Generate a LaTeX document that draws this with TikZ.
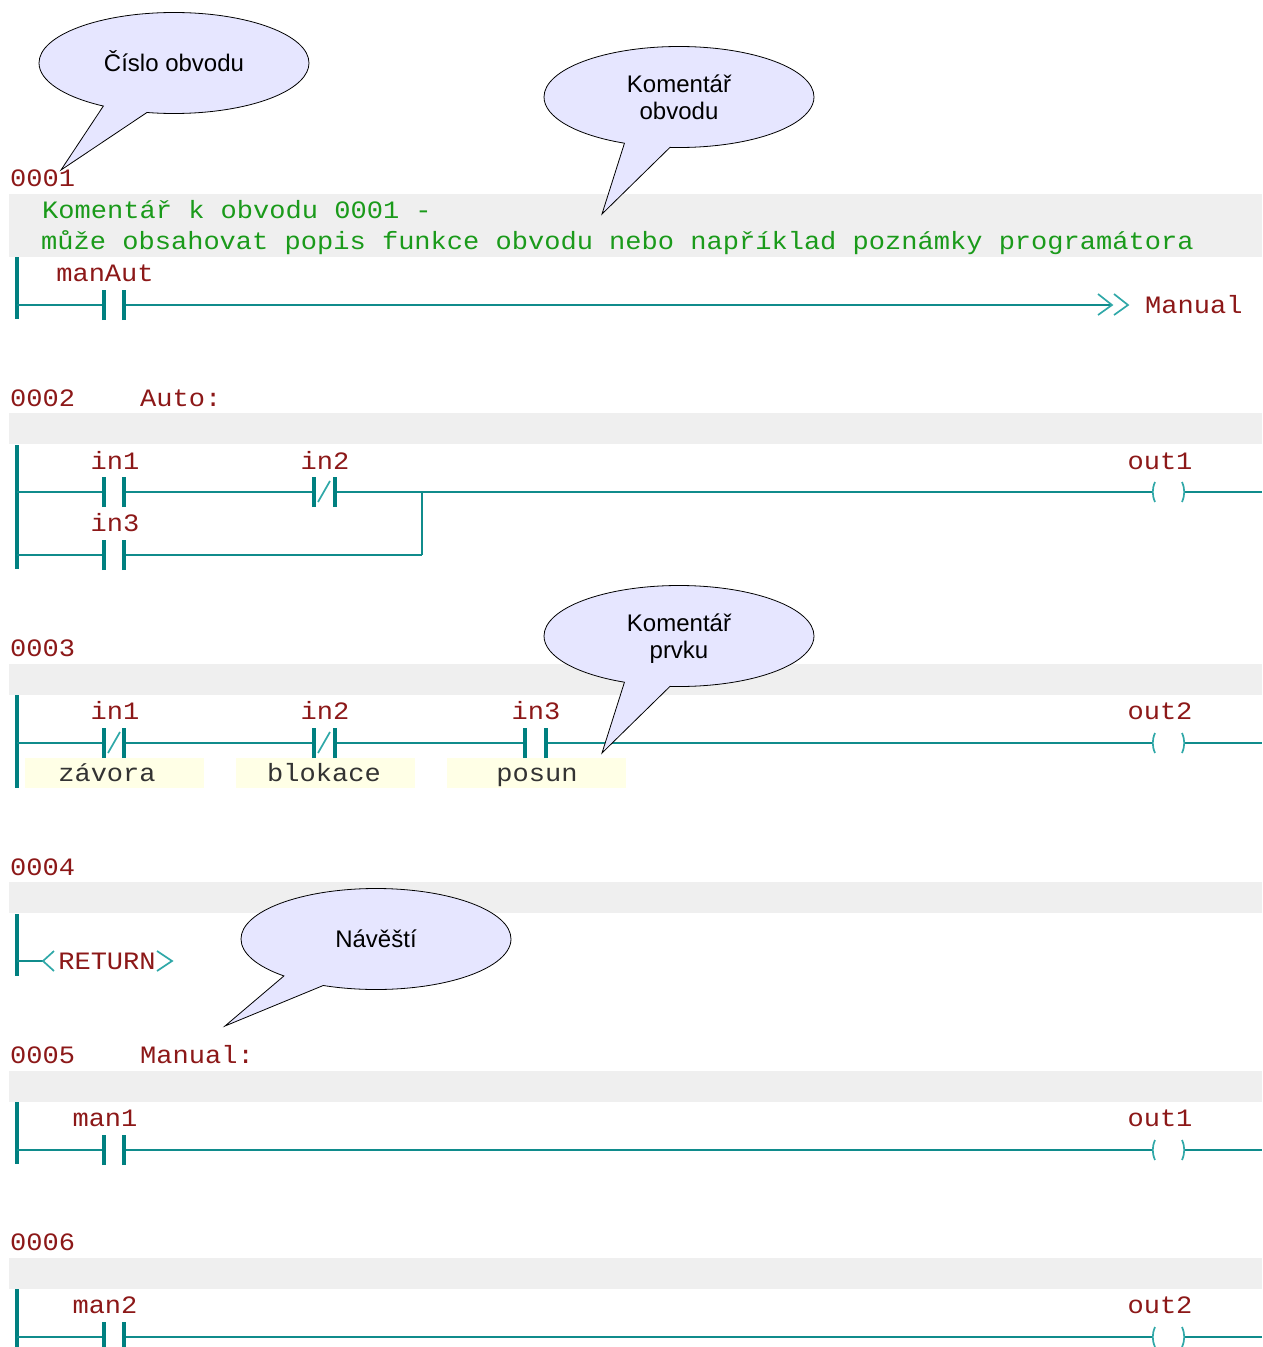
\documentclass[tikz,border=0pt]{standalone}
\usepackage{fontspec}
\setmainfont{Liberation Sans}
\newfontfamily\ladfont[FakeStretch=1.082]{Liberation Mono}
\usetikzlibrary{shapes.callouts}
\definecolor{wirecolor}{HTML}{108C8C}
\definecolor{railcolor}{HTML}{008080}
\definecolor{tipcolor}{HTML}{30A8A8}
\definecolor{namecolor}{HTML}{8C1818}
\definecolor{notecolor}{HTML}{1A9A1A}
\definecolor{bandcolor}{HTML}{EFEFEF}
\definecolor{bubblecolor}{HTML}{E6E6FF}
\definecolor{tagcolor}{HTML}{FFFFE6}
\newcommand{\bubstrut}{\rule[-5pt]{0pt}{27pt}}
\tikzset{
  lad/.style={font=\ladfont\fontsize{25}{25}\selectfont,inner sep=0pt,text=namecolor,text height=16pt,text depth=0pt},
  note/.style={lad,text=notecolor,anchor=west},
  tag/.style={lad,text=black!80},
  wire/.style={draw=wirecolor,line width=2pt},
  rail/.style={draw=railcolor,line width=3.5pt},
  tip/.style={draw=tipcolor,line width=1.7pt},
  bubble/.style={ellipse callout,draw=black,fill=bubblecolor,line width=0.8pt,inner sep=0pt,
    font=\fontsize{24}{27}\selectfont,align=center,text=black,
    minimum width=270pt,minimum height=101pt,aspect=2.67,callout pointer arc=20}
}
\begin{document}
\begin{tikzpicture}[x=1pt,y=-1pt]
 \useasboundingbox (0,0) rectangle (1262,1347);

 %Bands
 \foreach \t/\b in {194/257,413/444,664/695,882/913,1071/1102,1258/1289}
 \fill[bandcolor] (9,\t) rectangle (1262,\b);

 %Tags
 \foreach \l in {25,236,447}
 \fill[tagcolor] (\l,758) rectangle (\l+179,788);

 %Numbers
 \foreach \name/\y/\ntext in {n1/178/0001,n2/398/0002,n3/648/0003,n4/867/0004,n5/1055/0005,n6/1242/0006}
 \node[lad,anchor=west] (\name) at (10,\y) {\ntext};
 \node[lad,anchor=west] (auto) at (140,398) {Auto:};
 \node[lad,anchor=west] (manual) at (140,1055) {Manual:};

 %Comments
 \node[note] (note1) at (42,210) {Komentář k obvodu 0001 -};
 \node[note] (note2) at (41,241) {může obsahovat popis funkce obvodu nebo například poznámky programátora};

 %Rails
 \foreach \t/\b in {257/319,445/569,695/788,914/976,1102/1164,1289/1347}
 \draw[rail] (17,\t) -- (17,\b);

 %Coordinates
 \foreach \name/\x/\y in {a0/17/305,a1/104/305,a2/124/305,a3/1112/305,
   b0/17/492,b1/104/492,b2/124/492,b3/314/492,b4/335/492,b5/422/492,b6/1152/492,b7/1185/492,b8/1262/492,
   c0/17/555,c1/104/555,c2/124/555,c3/422/555,
   d0/17/743,d1/104/743,d2/124/743,d3/314/743,d4/335/743,d5/525/743,d6/546/743,d7/1152/743,d8/1185/743,d9/1262/743,
   e0/17/961,e1/43/961,
   f0/17/1150,f1/104/1150,f2/124/1150,f3/1152/1150,f4/1185/1150,f5/1262/1150,
   g0/17/1337,g1/104/1337,g2/124/1337,g3/1152/1337,g4/1185/1337,g5/1262/1337}
 \coordinate (\name) at (\x,\y);

 %Wires
 \foreach \p/\q in {a0/a1,a2/a3,b0/b1,b2/b3,b4/b6,b7/b8,c0/c1,c2/c3,d0/d1,d2/d3,d4/d5,d6/d7,d8/d9,e0/e1,f0/f1,f2/f3,f4/f5,g0/g1,g2/g3,g4/g5}
 \draw[wire] (\p) -- (\q);
 \draw[wire] (c3) -- (b5);

 %Contacts
 \foreach \c in {a1,a2,b1,b2,b3,b4,c1,c2,d1,d2,d3,d4,d5,d6,f1,f2,g1,g2}
 \draw[rail] ([yshift=-15pt]\c) -- ([yshift=15pt]\c);
 \foreach \c in {b3,d1,d3}
 \draw[tip] ([xshift=4pt,yshift=-10pt]\c) -- ([xshift=16pt,yshift=11pt]\c);

 %Coils
 \foreach \p/\q in {b6/b7,d7/d8,f3/f4,g3/g4}{
  \draw[tip] ([xshift=3pt,yshift=-10pt]\p) .. controls ([yshift=-3pt]\p) and ([yshift=3pt]\p) .. ([xshift=3pt,yshift=10pt]\p);
  \draw[tip] ([xshift=-3pt,yshift=-10pt]\q) .. controls ([yshift=-3pt]\q) and ([yshift=3pt]\q) .. ([xshift=-3pt,yshift=10pt]\q);
 }

 %Jump
 \draw[tip] (1098,294) -- (a3) -- (1098,315);
 \draw[tip] (1114,294) -- (1128,305) -- (1114,315);
 \node[lad,anchor=west] (jump) at (1145,305) {Manual};

 %Return
 \draw[tip] (54,951) -- (e1) -- (54,971);
 \node[lad] (ret) at (107,961) {RETURN};
 \draw[tip] (157,951) -- (172,961) -- (157,971);

 %Names
 \foreach \name/\x/\y/\ltext in {la/105/273/manAut,lb/115/461/in1,lc/325/461/in2,ld/1160/461/out1,le/115/523/in3,
   lf/115/711/in1,lg/325/711/in2,lh/536/711/in3,li/1160/711/out2,
   lj/105/1118/man1,lk/1160/1118/out1,ll/105/1305/man2,lm/1160/1305/out2}
 \node[lad] (\name) at (\x,\y) {\ltext};

 %Tag texts
 \node[tag] (tag1) at (107,773) {závora};
 \node[tag] (tag2) at (324,773) {blokace};
 \node[tag] (tag3) at (537,773) {posun};

 %Bubbles
 \node[bubble,callout absolute pointer={(61,170)}] (bub1) at (174,63) {\bubstrut Číslo obvodu};
 \node[bubble,callout absolute pointer={(602,214)}] (bub2) at (679,97) {\bubstrut Komentář\\\bubstrut obvodu};
 \node[bubble,callout absolute pointer={(602,753)}] (bub3) at (679,636) {\bubstrut Komentář\\\bubstrut prvku};
 \node[bubble,callout absolute pointer={(225,1026)}] (bub4) at (376,939) {\bubstrut Návěští};
\end{tikzpicture}
\end{document}
